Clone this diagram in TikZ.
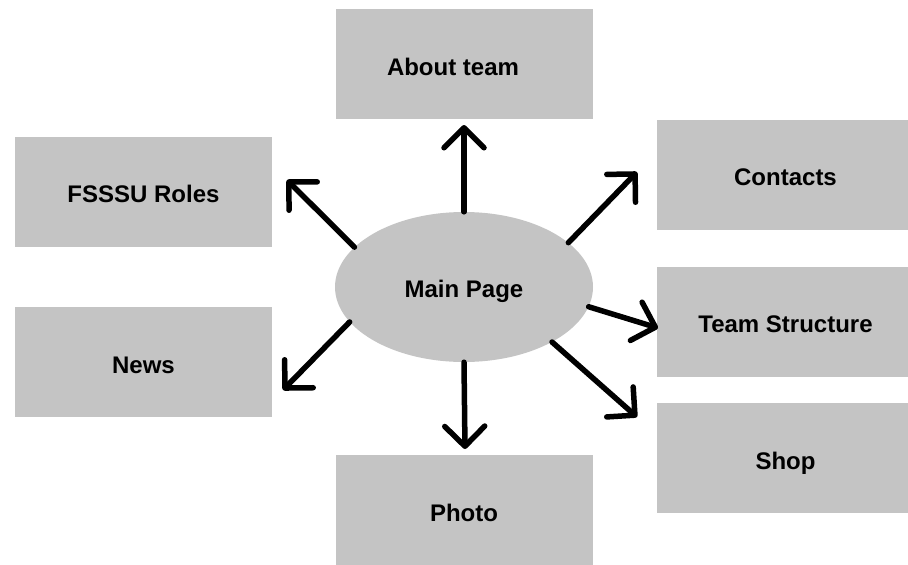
\documentclass[tikz,border=0pt]{standalone}
\usepackage{fontspec}
\setmainfont{Liberation Sans}
\usetikzlibrary{shapes.geometric,arrows.meta}
\definecolor{boxgray}{HTML}{C4C4C4}
\begin{document}
\begin{tikzpicture}[x=1pt,y=-1pt,
  box/.style={fill=boxgray, minimum width=257pt, minimum height=110pt, inner sep=0pt,
    font=\fontsize{24}{28}\selectfont\bfseries, text=black, text height=22pt, text depth=0pt},
  rbox/.style={box, minimum width=251pt},
  link/.style={line width=5.5pt, line cap=round,
    -{Straight Barb[length=20pt,width=40pt,line cap=round,line join=round]}}]
\useasboundingbox (0,0) rectangle (908,565);
\node[box] (about) at (464,64) {About team\hspace*{22pt}};
\node[box] (roles) at (143.5,191.5) {FSSSU Roles};
\node[box] (news) at (143.5,362) {News};
\node[box] (photo) at (464,510) {Photo};
\node[rbox] (contacts) at (782.5,174.5) {\hspace*{6pt}Contacts};
\node[rbox] (structure) at (782.5,321.5) {\hspace*{6pt}Team Structure};
\node[rbox] (shop) at (782.5,458) {\hspace*{6pt}Shop};
\node[ellipse, fill=boxgray, minimum width=258pt, minimum height=150pt, inner sep=0pt,
  text height=20pt, text depth=0pt,
  font=\fontsize{24}{28}\selectfont\bfseries] (main) at (464,287) {Main Page};
\coordinate (tUp) at (464,125);
\coordinate (tUL) at (287,180);
\coordinate (tUR) at (637,172);
\coordinate (tR) at (658,328);
\coordinate (tLL) at (283,390);
\coordinate (tLR) at (637,417);
\coordinate (tDn) at (465,449);
\draw[link] (main.90) -- (tUp);
\draw[link] (main.160) -- (tUL);
\draw[link] (main.23) -- (tUR);
\draw[link] (main.-9) -- (tR);
\draw[link] (main.197) -- (tLL);
\draw[link] (main.-32) -- (tLR);
\draw[link] (main.270) -- (tDn);
\end{tikzpicture}
\end{document}
